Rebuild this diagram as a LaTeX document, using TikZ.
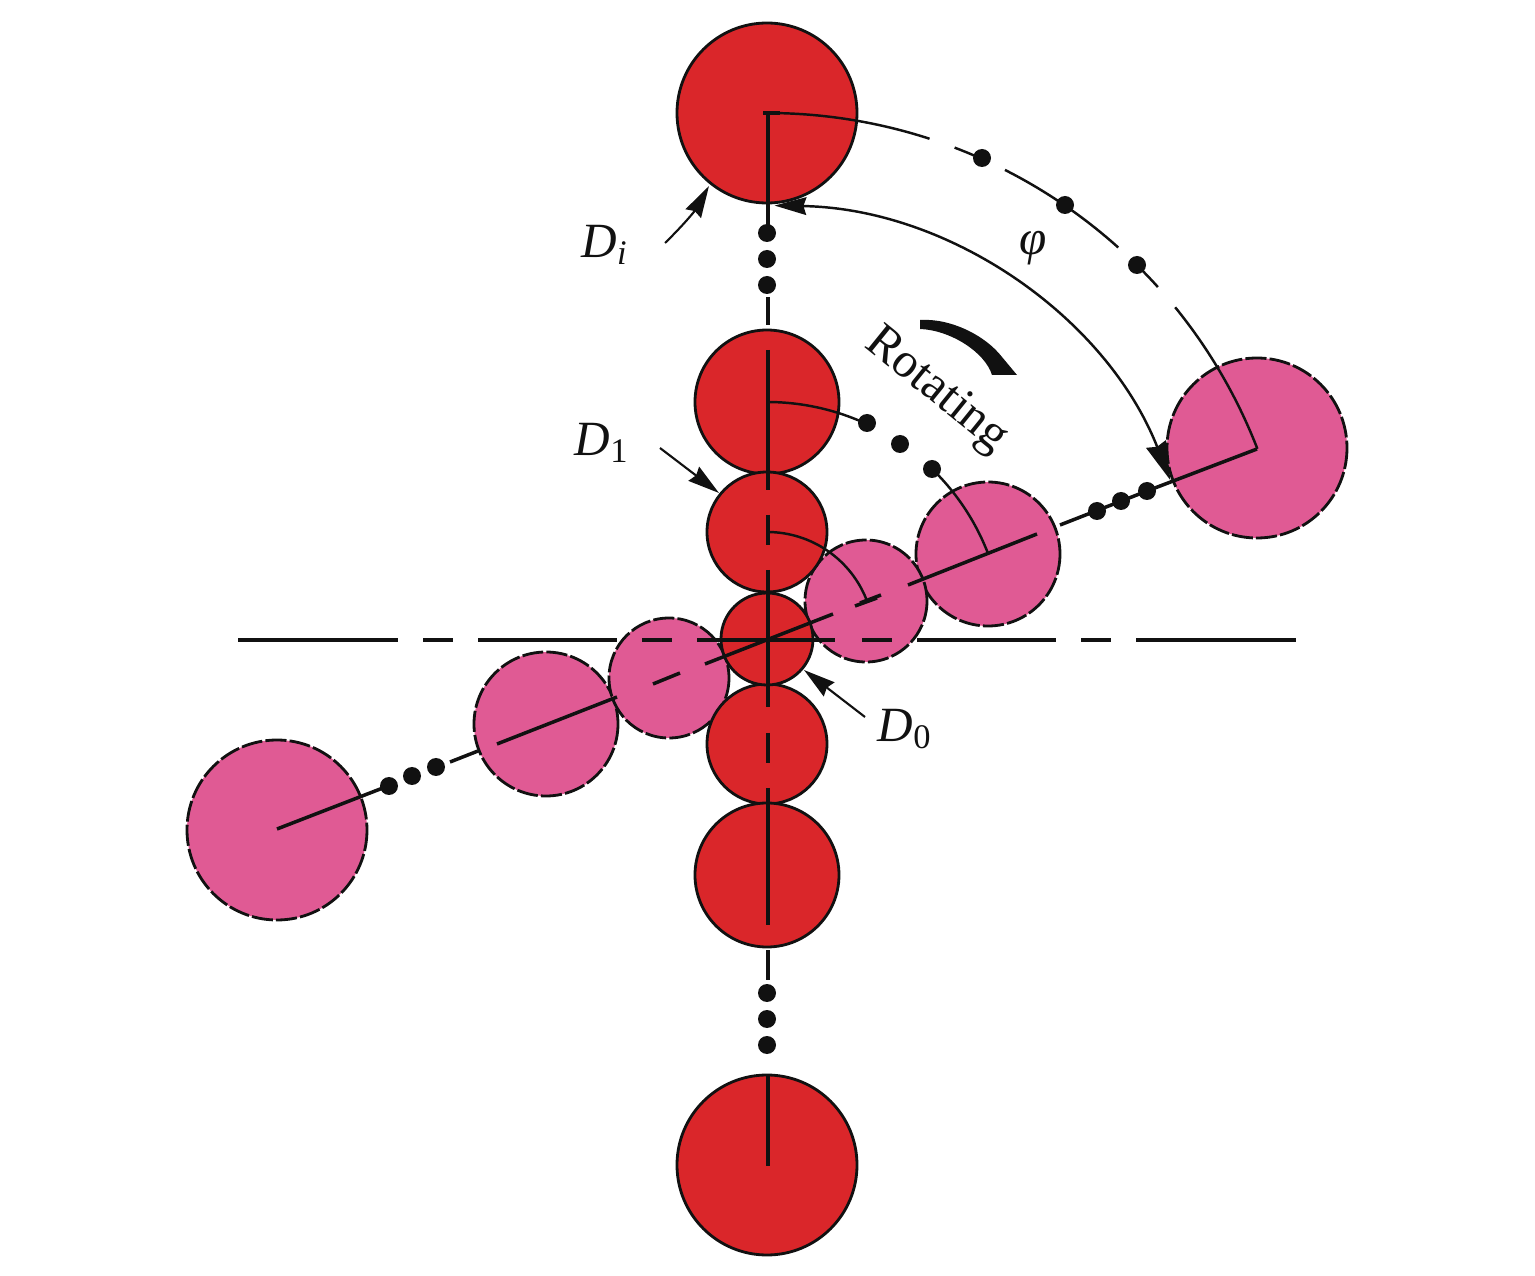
\documentclass[tikz,border=0pt]{standalone}
\usepackage{fontspec}
\setmainfont{Liberation Serif}
\usetikzlibrary{arrows.meta,calc}
\definecolor{discred}{RGB}{218,38,42}
\definecolor{discpink}{RGB}{224,90,148}
\definecolor{inkblack}{RGB}{17,17,17}
\tikzset{red disc/.style={fill=discred,draw=inkblack,line width=0.8pt},
  pink disc/.style={fill=discpink,draw=inkblack,line width=0.8pt,dash pattern=on 6pt off 0.9pt},
  axis line/.style={draw=inkblack,line width=1pt},
  arc line/.style={draw=inkblack,line width=0.7pt},
  leader/.style={draw=inkblack,line width=0.6pt,-{Stealth[length=9pt,width=5pt,inset=0.8pt]}},
  size tag/.style={font=\fontsize{14}{14}\selectfont,text=inkblack,inner sep=0pt}
}
\newcommand{\sizelabel}[1]{\textit{D}\textsubscript{#1}}
\begin{document}
\begin{tikzpicture}[x=0.01cm,y=-0.01cm]
  \useasboundingbox (0,0) rectangle (1535,1276);
  \coordinate (hub) at (767,639);

  % -- Draw the rotated row of discs.
  \foreach \cx/\cy/\rad in {1257/448/90,988/554/72,866/601/61,277/830/90,546/724/72,669/678/60}
    \draw[pink disc] (\cx,\cy) circle (\rad);

  % -- Draw the upright row of discs.
  \foreach \cx/\cy/\rad in {767/113/90,767/402/72,767/532/60,767/744/60,767/875/72,767/1165/90,767/639/46}
    \draw[red disc] (\cx,\cy) circle (\rad);

  % -- The three centre lines, in pieces.
  \foreach \ya/\yb in {113/228,297/325,350/490,515/545,570/707,733/763,788/925,950/980,1075/1166}
    \draw[axis line] (768,\ya) -- (768,\yb);
  \foreach \xa/\xb in {238/398,423/453,478/617,642/672,697/835,862/892,917/1056,1081/1111,1136/1296}
    \draw[axis line] (\xa,640) -- (\xb,640);
  \draw[axis line] (277,829) -- (388,786);
  \draw[axis line] (450,762) -- (478,751);
  \draw[axis line] (497,744) -- (617,697);
  \draw[axis line] (653,684) -- (680,673);
  \draw[axis line] (705,664) -- (833,614);
  \draw[axis line] (860,603) -- (881,595);
  \draw[axis line] (908,585) -- (1037,534);
  \draw[axis line] (1060,525) -- (1147,491);
  \draw[axis line] (1147,491) -- (1257,449);

  % -- Arcs through the disc centres.
  \foreach \rad/\from/\to in {526/0/18,526/20.9/24,526/26.9/41.9,526/44.7/48,526/50.9/68.8,237/0/25,237/44/68.9,107/0/69}
    \draw[arc line] ($(hub)+({\from-90}:\rad)$) arc[start angle=\from-90,end angle=\to-90,radius=\rad];
  \draw[axis line] (763,113) -- (780,113);
  \draw[axis line] (855,606) -- (877,598);

  % -- The sweep arc, with a head at both ends.
  \draw[arc line,{Stealth[length=9pt,width=5pt,inset=0.8pt]}-{Stealth[length=11pt,width=6pt,inset=0.8pt]}] ($(hub)+(-89:433.5)$) arc[start angle=-89,end angle=-21.5,radius=433.5];

  % -- Dots that stand for the discs left out.
  \foreach \cx/\cy in {767/233,767/259,767/285,767/993,767/1019,767/1045,
      982/158,1065/205,1137/265,867/423,900/444,932/469,
      389/786,412/776,436/767,1097/511,1121/501,1147/491}
    \fill[inkblack] (\cx,\cy) circle (9);

  % -- The size labels and their leaders.
  \coordinate (tail i) at (665,243);
  \coordinate (head i) at (709,186);
  \coordinate (tail one) at (660,448);
  \coordinate (head one) at (719,493);
  \coordinate (tail zero) at (865,717);
  \coordinate (head zero) at (804,670);
  \draw[leader] (tail i) to[bend right=8] (head i);
  \draw[leader] (tail one) -- (head one);
  \draw[leader] (tail zero) -- (head zero);
  \node[size tag] (label i) at (605,245) {\sizelabel{\textit{i}}};
  \node[size tag] (label one) at (602,443) {\sizelabel{1}};
  \node[size tag] (label zero) at (905,729) {\sizelabel{0}};
  \node[size tag] (label phi) at (1033,248) {\textit{φ}};

  % -- Direction of rotation.
  \node[size tag,rotate=-39] (label rot) at (936,391) {Rotating};
  \fill[inkblack] (920,320) .. controls (950,318) and (985,335) .. (1002,357) -- (1017,375) -- (992,375)
    .. controls (985,352) and (950,330) .. (920,329) -- cycle;
\end{tikzpicture}
\end{document}
